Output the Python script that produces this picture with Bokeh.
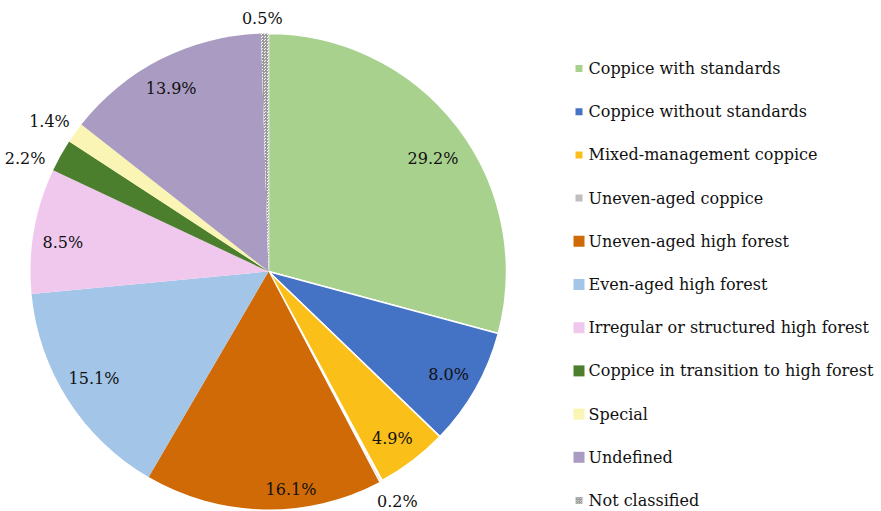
import math
from bokeh.plotting import figure
from bokeh.models import ColumnDataSource, Range1d
from bokeh.core.properties import value
from bokeh.embed import file_html
from bokeh.resources import INLINE

# ---- data ----
categories = [
    "Coppice with standards",
    "Coppice without standards",
    "Mixed-management coppice",
    "Uneven-aged coppice",
    "Uneven-aged high forest",
    "Even-aged high forest",
    "Irregular or structured high forest",
    "Coppice in transition to high forest",
    "Special",
    "Undefined",
    "Not classified",
]
percentages = [29.2, 8.0, 4.9, 0.2, 16.1, 15.1, 8.5, 2.2, 1.4, 13.9, 0.5]
labels = ["29.2%", "8.0%", "4.9%", "0.2%", "16.1%", "15.1%", "8.5%", "2.2%", "1.4%", "13.9%", "0.5%"]

# ---- style ----
colors = ["#A9D18E", "#4472C4", "#FBBF1A", "#BFBFBF", "#D06A07", "#A3C5E8",
          "#F0C8EE", "#4B7F2E", "#FAF5B4", "#A99BC1", "#FFFFFF"]
slice_line_w = [1.5, 1.5, 1.5, 2.5, 0, 0, 0, 0, 0, 0, 0]
legend_marker = [7, 7, 7, 7, 11, 11, 11, 11, 11, 11, 7]
label_nudge = {0: (2, -11), 1: (2, -2), 2: (0, -4), 3: (2, -3), 4: (27, -13),
               5: (-2, 3), 6: (-4, -6), 7: (-8, -12), 9: (-5, 0), 10: (-2, -4)}

W, H = 881, 511
FONT = value("DejaVu Serif")
FSIZE = "16px"

p = figure(width=W, height=H, output_backend="svg", toolbar_location=None,
           x_range=Range1d(0, W), y_range=Range1d(0, H), min_border=0)
p.axis.visible = False
p.grid.visible = False
p.outline_line_color = None
p.background_fill_color = "white"

cx, cy, R = 268, H - 271, 238

total = sum(percentages)
starts, ends, mids = [], [], []
cum = 0.0
for v in percentages:
    a0 = math.pi / 2 - 2 * math.pi * cum / total
    a1 = math.pi / 2 - 2 * math.pi * (cum + v) / total
    starts.append(a0)
    ends.append(a1)
    mids.append((a0 + a1) / 2)
    cum += v

src = ColumnDataSource(dict(start=starts, end=ends, color=colors,
                            lw=slice_line_w, cat=categories))
p.wedge(x=cx, y=cy, radius=R, start_angle="start", end_angle="end",
        direction="clock", fill_color="color", line_color="white",
        line_width="lw", source=src)

# hatched "Not classified" slice
nc = len(percentages) - 1
p.wedge(x=cx, y=cy, radius=R, start_angle=starts[nc], end_angle=ends[nc],
        direction="clock", fill_color="white", line_color=None,
        hatch_pattern="criss_cross", hatch_color="#999999", hatch_scale=3,
        hatch_weight=1)

# data labels
lx, ly = [], []
for i, (v, m) in enumerate(zip(percentages, mids)):
    c, s = math.cos(m), math.sin(m)
    if v >= 3:
        r = 0.86 * R
        x, y = cx + r * c, cy + r * s
    else:
        r = 1.04 * R
        x, y = cx + r * c + c * 22, cy + r * s + s * 10
    dx, dy = label_nudge.get(i, (0, 0))
    lx.append(x + dx)
    ly.append(y + dy)

p.text(x=lx, y=ly, text=labels, text_align="center", text_baseline="middle",
       text_font=FONT, text_font_size=FSIZE, text_color="#111111")

# legend
leg_y0, leg_dy = H - 68, 43.2
leg_y = [leg_y0 - i * leg_dy for i in range(len(categories))]
mx = [578.5] * len(categories)
p.rect(x=mx[:nc], y=leg_y[:nc], width=legend_marker[:nc], height=legend_marker[:nc],
       width_units="screen", height_units="screen", fill_color=colors[:nc], line_color=None)
p.rect(x=mx[nc], y=leg_y[nc], width=legend_marker[nc], height=legend_marker[nc],
       width_units="screen", height_units="screen", fill_color="white", line_color=None,
       hatch_pattern="criss_cross", hatch_color="#999999", hatch_scale=2.5)
p.text(x=[588] * len(categories), y=leg_y, text=categories, text_align="left",
       text_baseline="middle", text_font=FONT, text_font_size=FSIZE,
       text_color="#111111")

open("out.html", "w").write(file_html(p, INLINE))
